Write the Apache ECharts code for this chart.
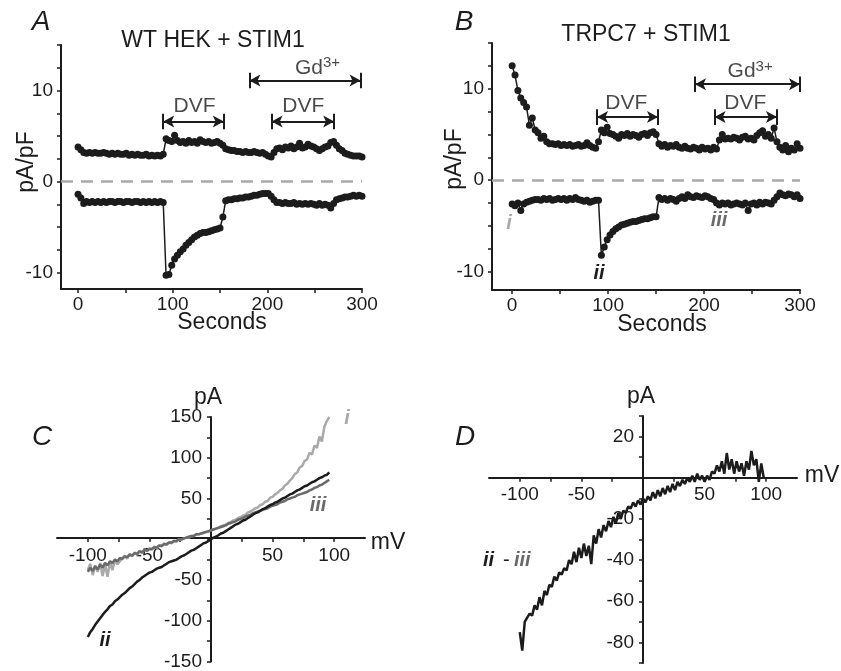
<!DOCTYPE html>
<html><head><meta charset="utf-8">
<script src="https://cdn.jsdelivr.net/npm/echarts@6/dist/echarts.min.js"></script>
<style>html,body{margin:0;padding:0;background:#fff}#c{width:841px;height:671px}</style>
</head><body><div id="c"></div>
<script>
// ---------- DATA ----------
const timeSec = [0,3,6,9,12,15,18,21,24,27,30,33,36,39,42,45,48,51,54,57,60,63,66,69,72,75,78,81,84,87,90,93,96,99,102,105,108,111,114,117,120,123,126,129,132,135,138,141,144,147,150,153,156,159,162,165,168,171,174,177,180,183,186,189,192,195,198,201,204,207,210,213,216,219,222,225,228,231,234,237,240,243,246,249,252,255,258,261,264,267,270,273,276,279,282,285,288,291,294,297,300];
// Panel A: WT HEK + STIM1 (pA/pF), outward (upper) and inward (lower)
const wtUpper = [3.8,3.5,3.2,3.1,3.2,3.1,3.2,3.1,3.1,3.2, 3.1,3.0,3.1,3.0,3.1,3.0,3.0,3.1,2.9,3.0, 2.9,3.0,2.9,2.9,3.0,2.8,2.9,2.8,2.9,2.8, 3.0,4.7,4.5,4.4,5.1,4.5,4.3,4.4,4.2,4.5, 4.3,4.4,4.2,4.6,4.4,4.3,4.4,4.2,4.3,4.4, 4.2,4.0,3.6,3.5,3.4,3.4,3.3,3.3,3.2,3.3, 3.2,3.2,3.3,3.2,3.1,3.2,3.0,2.8,2.7,3.2, 3.6,3.7,3.5,3.8,3.7,3.9,3.6,3.8,4.2,3.7, 3.8,4.1,3.9,3.8,3.6,3.4,3.6,3.8,3.9,4.3, 4.4,4.0,3.6,3.4,3.1,3.0,2.9,2.8,2.8,2.8, 2.7];
const wtLower = [-1.4,-1.8,-2.4,-2.2,-2.3,-2.2,-2.3,-2.2,-2.3,-2.2, -2.3,-2.2,-2.2,-2.3,-2.2,-2.2,-2.3,-2.2,-2.2,-2.3, -2.2,-2.2,-2.3,-2.2,-2.3,-2.2,-2.3,-2.2,-2.3,-2.2, -2.3,-10.3,-10.2,-9.2,-8.5,-8.1,-7.7,-7.4,-7.0,-6.7, -6.4,-6.1,-5.9,-5.7,-5.6,-5.6,-5.5,-5.4,-5.3,-5.2, -5.1,-3.9,-2.1,-2.0,-2.0,-1.9,-1.9,-1.8,-1.8,-1.7, -1.7,-1.6,-1.5,-1.5,-1.4,-1.3,-1.3,-1.3,-1.6,-2.0, -2.3,-2.3,-2.4,-2.3,-2.4,-2.4,-2.3,-2.5,-2.4,-2.5, -2.4,-2.5,-2.4,-2.5,-2.6,-2.4,-2.6,-2.5,-2.6,-2.9, -2.4,-2.0,-1.9,-1.8,-1.7,-1.7,-1.6,-1.5,-1.6,-1.5, -1.6];
// Panel B: TRPC7 + STIM1
const trpcUpper = [12.5,11.5,9.8,9.0,8.5,8.0,6.0,6.8,5.5,5.2, 4.6,4.8,4.2,4.0,4.0,3.9,4.0,3.8,3.9,3.8, 3.9,3.7,3.8,3.9,3.7,3.8,4.1,3.8,3.6,3.5, 4.2,5.5,5.2,5.8,5.1,5.0,4.8,4.6,5.0,4.9, 5.1,4.8,5.0,4.9,4.7,5.0,5.1,4.9,5.2,5.3, 5.0,4.0,3.7,3.9,3.6,3.8,3.7,3.9,3.6,3.5, 3.7,3.5,3.4,3.6,3.5,3.3,3.6,3.4,3.5,3.3, 3.6,3.4,4.4,5.0,4.5,4.6,4.5,4.7,4.6,4.4, 4.7,4.8,4.5,4.6,4.4,4.9,5.2,5.4,4.8,5.0, 4.6,5.7,4.2,3.6,3.3,3.8,3.1,3.5,3.3,4.0, 3.5];
const trpcLower = [-2.6,-2.8,-2.5,-3.3,-2.6,-2.4,-2.3,-2.2,-2.1,-2.1, -2.2,-2.0,-2.1,-2.0,-2.2,-2.1,-2.0,-2.1,-2.0,-2.2, -2.0,-2.1,-1.9,-2.1,-2.2,-2.3,-2.2,-2.4,-2.3,-2.2, -2.2,-8.2,-7.3,-6.5,-6.0,-5.6,-5.3,-5.1,-4.9,-4.8, -4.7,-4.6,-4.5,-4.5,-4.4,-4.3,-4.2,-4.2,-4.1,-4.0, -4.0,-1.9,-2.1,-2.0,-2.2,-2.0,-2.1,-2.3,-2.0,-1.8, -2.0,-1.6,-1.8,-1.9,-1.7,-1.8,-1.9,-1.7,-1.8,-2.0, -2.1,-2.5,-2.7,-2.5,-2.6,-2.5,-2.7,-2.6,-2.5,-2.6, -2.7,-2.5,-3.3,-2.6,-2.5,-2.7,-2.4,-2.6,-2.4,-2.5, -2.6,-2.2,-1.8,-1.4,-1.6,-1.7,-1.5,-1.6,-1.8,-1.6, -2.0];
// Panels C and D: current-voltage relations
const mV = [-100,-98,-96,-94,-92,-90,-88,-86,-84,-82,-80,-78,-76,-74,-72,-70,-68,-66,-64,-62,-60,-58,-56,-54,-52,-50,-48,-46,-44,-42,-40,-38,-36,-34,-32,-30,-28,-26,-24,-22,-20,-18,-16,-14,-12,-10,-8,-6,-4,-2,0,2,4,6,8,10,12,14,16,18,20,22,24,26,28,30,32,34,36,38,40,42,44,46,48,50,52,54,56,58,60,62,64,66,68,70,72,74,76,78,80,82,84,86,88,90,92,94,96,98];
const ivI   = [-38,-30,-44,-32,-40,-29,-45,-31,-46,-27, -38,-25,-31,-27,-24,-20,-24,-18,-21,-16, -19,-14,-17,-12,-15,-11,-13,-9,-11,-7, -9,-5,-7,-4,-5,-2,-3,0,-1,1, 2,2,4,4,6,6,7,8,9,9, 11,12,13,14,16,17,18,20,21,23, 24,26,27,29,30,33,34,36,38,39, 42,43,46,47,51,52,55,57,60,62, 66,68,72,75,80,82,88,90,96,98, 106,104,115,112,126,120,138,145,150];
const ivIII = [-40,-35,-39,-33,-37,-31,-35,-29,-32,-27, -29,-25,-27,-23,-24,-21,-22,-19,-20,-17, -18,-15,-16,-13,-14,-12,-12,-10,-10,-8, -8,-6,-6,-4,-4,-2,-2,0,0,1, 2,3,4,4,6,6,7,8,9,10, 11,12,13,14,15,16,17,19,20,21, 22,24,25,26,28,29,30,32,33,34, 35,36,37,38,40,41,42,43,45,46, 47,49,50,51,52,54,55,56,57,58, 60,61,63,64,66,67,69,71,73];
const ivII  = [-120,-114,-110,-105,-101,-97,-93,-89,-86,-82, -80,-76,-74,-71,-68,-66,-63,-60,-58,-55, -52,-50,-47,-45,-43,-41,-40,-38,-36,-35, -34,-32,-30,-28,-27,-26,-25,-23,-21,-20, -18,-16,-14,-13,-11,-9,-7,-5,-4,-2, 0,2,3,5,7,8,10,12,14,16, 18,19,21,23,24,26,28,30,32,33, 35,37,38,40,42,43,45,46,48,50, 51,53,55,56,58,60,61,63,65,66, 68,70,71,73,75,76,78,79,82];
const ivDiff = [-75,-84,-70,-68,-66,-67,-62,-64,-58,-62, -55,-57,-52,-53,-48,-50,-46,-47,-44,-45, -40,-42,-36,-41,-34,-39,-32,-38,-33,-42, -28,-32,-25,-29,-23,-26,-21,-24,-19,-22, -17,-20,-16,-17,-14,-15,-12,-14,-11,-13, -10,-12,-9,-11,-7,-10,-6,-9,-5,-8, -4,-7,-3,-6,-2,-4,-1,-3,0,-2, 1,-2,2,-1,1,-2,1,-1,3,2, 6,3,8,2,12,4,9,2,8,3, 7,1,8,4,13,6,9,-2,7,0];
// bars: [start s, end s, level pA/pF]
const barsA = [[90,154,6.6],[204.5,270.6,6.6],[181,298.5,11.1]];
const barsB = [[88.5,152,6.9],[211,276,6.9],[190.6,300,10.5]];
const barTextA = [['DVF',123,8.3],['DVF',238,8.3],['Gd3+',253,12.5]];
const barTextB = [['DVF',119,8.4],['DVF',243,8.4],['Gd3+',248,11.9]];
// ticks and labels
const timeTicks = [0,50,100,150,200,250,300];
const timeLabels = [0,100,200,300];
const densTicks = [15,12.5,10,7.5,5,2.5,0,-2.5,-5,-7.5,-10];
const densLabels = [10,0,-10];
const mvTicks = [-100,-75,-50,-25,0,25,50,75,100];
const mvLabels = [-100,-50,50,100];
const pACTicks = [150,125,100,75,50,25,0,-25,-50,-75,-100,-125,-150];
const pACLabels = [150,100,50,-50,-100,-150];
const pADTicks = [30,20,10,0,-10,-20,-30,-40,-50,-60,-70,-80,-90];
const pADLabels = [20,-20,-40,-60,-80];

// ---------- STYLE / LAYOUT ----------
const FONT = '"Liberation Sans", Arial, Helvetica, sans-serif';
const INK = '#1c1c1c';
const LIGHT = '#a9a9a9';
const MID = '#6a6a6a';
const BAR_HALF = 0.85;
const GRIDS = [
  { left: 61, top: 45, width: 301, height: 244 },
  { left: 492, top: 43, width: 308, height: 247 },
  { left: 57, top: 417, width: 308, height: 247 },
  { left: 489, top: 416, width: 308, height: 247 }
];
// crossing offsets for the I-V panels (axes cross at 0,0)
const xOffC = -GRIDS[2].height * (0 - (-150)) / 300;
const yOffC = -GRIDS[2].width * (0 - (-125)) / 250;
const xOffD = -GRIDS[3].height * (0 - (-90)) / 120;
const yOffD = -GRIDS[3].width * (0 - (-125)) / 250;

function axis(gi, min, max, ticks, labels, offset, margin) {
  return {
    type: 'value', gridIndex: gi, min: min, max: max, offset: offset,
    axisLine: { show: true, onZero: false, lineStyle: { color: INK, width: 2 } },
    axisTick: { show: true, customValues: ticks, length: 4, lineStyle: { color: INK, width: 1.5 } },
    axisLabel: { show: true, customValues: labels, fontSize: 19, color: INK, fontFamily: FONT, margin: margin },
    splitLine: { show: false }
  };
}
const pairs = (xs, ys) => ys.map((v, i) => [xs[i], v]);

function traceSeries(gi, xs, ys, zeroLine) {
  const s = {
    type: 'line', xAxisIndex: gi, yAxisIndex: gi, data: pairs(xs, ys),
    symbol: 'circle', symbolSize: 7, showSymbol: true,
    itemStyle: { color: INK }, lineStyle: { color: INK, width: 1.5 },
    silent: true, z: 3
  };
  if (zeroLine) {
    s.markLine = { silent: true, symbol: ['none', 'none'], label: { show: false },
      lineStyle: { color: LIGHT, type: [12, 8], width: 2.5 }, data: [{ yAxis: 0 }], z: 1 };
  }
  return s;
}
function ivSeries(gi, ys, color, w) {
  return { type: 'line', xAxisIndex: gi, yAxisIndex: gi, data: pairs(mV, ys), symbol: 'none',
    lineStyle: { color: color, width: w }, silent: true, z: 3 };
}
function bracketSeries(gi, bars) {
  const d = [];
  bars.forEach(b => {
    d.push([{ coord: [b[0], b[2]], symbol: 'arrow' }, { coord: [b[1], b[2]], symbol: 'arrow' }]);
    d.push([{ coord: [b[0], b[2] - BAR_HALF], symbol: 'none' }, { coord: [b[0], b[2] + BAR_HALF], symbol: 'none' }]);
    d.push([{ coord: [b[1], b[2] - BAR_HALF], symbol: 'none' }, { coord: [b[1], b[2] + BAR_HALF], symbol: 'none' }]);
  });
  return { type: 'line', xAxisIndex: gi, yAxisIndex: gi, data: [],
    markLine: { silent: true, symbolSize: [9, 11], label: { show: false }, precision: 3,
      lineStyle: { color: INK, width: 2, type: 'solid' }, data: d } };
}
function textSeries(gi, items) {
  return { type: 'scatter', xAxisIndex: gi, yAxisIndex: gi, symbolSize: 0.1, silent: true,
    itemStyle: { color: 'rgba(0,0,0,0)' },
    data: items.map(t => ({ name: t[0], value: [t[1], t[2]] })),
    label: { show: true, position: 'inside',
      formatter: p => p.name === 'Gd3+' ? '{a|Gd}{s|3+}' : '{a|' + p.name + '}',
      rich: { a: { fontSize: 21, color: INK, fontFamily: FONT, lineHeight: 24 },
              s: { fontSize: 15, color: INK, fontFamily: FONT, verticalAlign: 'top', lineHeight: 14 } } } };
}
function txt(t, x, y, size, opts) {
  opts = opts || {};
  return { type: 'text', x: x, y: y, rotation: opts.rot || 0, silent: true,
    style: { text: t, fill: opts.color || INK,
      font: (opts.style || 'normal') + ' ' + (opts.weight || 'normal') + ' ' + size + 'px ' + FONT,
      align: opts.align || 'center', verticalAlign: 'middle',
      textAlign: opts.align || 'center', textVerticalAlign: 'middle' } };
}

const option = {
  animation: false,
  backgroundColor: '#fff',
  grid: GRIDS,
  xAxis: [
    axis(0, -18, 300, timeTicks, timeLabels, 0, 6),
    axis(1, -21, 300, timeTicks, timeLabels, 0, 6),
    axis(2, -125, 125, mvTicks, mvLabels, xOffC, 8),
    axis(3, -125, 125, mvTicks, mvLabels, xOffD, 8)
  ],
  yAxis: [
    axis(0, -11.8, 15, densTicks, densLabels, 0, 8),
    axis(1, -12, 15, densTicks, densLabels, 0, 8),
    axis(2, -150, 150, pACTicks, pACLabels, yOffC, 9),
    axis(3, -90, 30, pADTicks, pADLabels, yOffD, 9)
  ],
  series: [
    traceSeries(0, timeSec, wtUpper, true),
    traceSeries(0, timeSec, wtLower, false),
    traceSeries(1, timeSec, trpcUpper, true),
    traceSeries(1, timeSec, trpcLower, false),
    ivSeries(2, ivI, LIGHT, 2.5),
    ivSeries(2, ivIII, MID, 2.5),
    ivSeries(2, ivII, INK, 2.5),
    ivSeries(3, ivDiff, INK, 2.5),
    bracketSeries(0, barsA),
    bracketSeries(1, barsB),
    textSeries(0, barTextA),
    textSeries(1, barTextB)
  ],
  graphic: [
    txt('A', 41, 22, 28, { style: 'italic' }),
    txt('WT HEK + STIM1', 213, 41, 23),
    txt('pA/pF', 27, 162, 23, { rot: Math.PI / 2 }),
    txt('Seconds', 222, 323, 23),
    txt('B', 464, 22, 28, { style: 'italic' }),
    txt('TRPC7 + STIM1', 646, 35, 23),
    txt('pA/pF', 455, 159, 23, { rot: Math.PI / 2 }),
    txt('Seconds', 662, 325, 23),
    txt('i', 509, 223, 20, { style: 'italic', weight: 'bold', color: LIGHT }),
    txt('ii', 599, 273, 20, { style: 'italic', weight: 'bold' }),
    txt('iii', 719, 220, 20, { style: 'italic', weight: 'bold', color: MID }),
    txt('C', 42, 437, 28, { style: 'italic' }),
    txt('pA', 208, 398, 23),
    txt('mV', 388, 543, 23),
    txt('i', 347, 418, 20, { style: 'italic', weight: 'bold', color: LIGHT }),
    txt('iii', 318, 505, 20, { style: 'italic', weight: 'bold', color: MID }),
    txt('ii', 105, 640, 20, { style: 'italic', weight: 'bold' }),
    txt('D', 465, 437, 28, { style: 'italic' }),
    txt('pA', 641, 397, 23),
    txt('mV', 822, 476, 23),
    txt('ii', 483, 560, 20, { style: 'italic', weight: 'bold', align: 'left' }),
    txt('-', 503, 560, 20, { align: 'left' }),
    txt('iii', 514, 560, 20, { style: 'italic', weight: 'bold', color: MID, align: 'left' })
  ]
};
const chart = echarts.init(document.getElementById('c'), null, { renderer: 'canvas' });
chart.setOption(option);
</script>
</body></html>
